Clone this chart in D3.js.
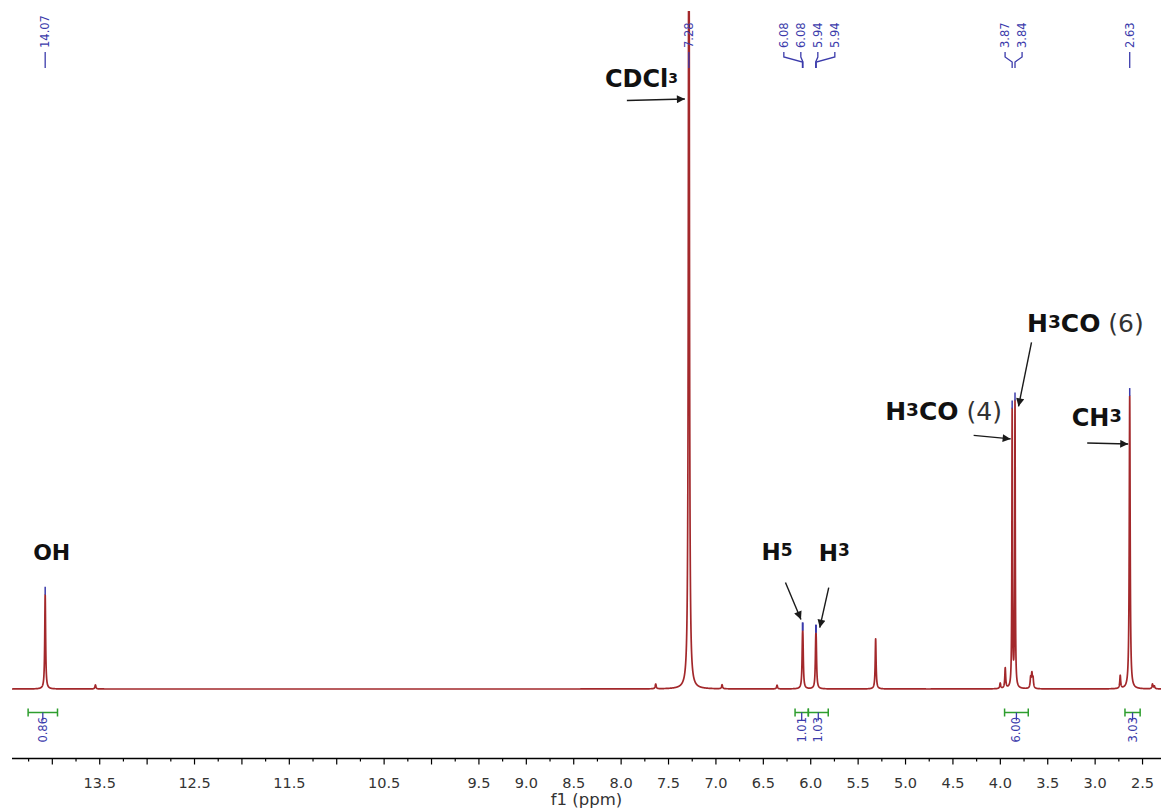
<!DOCTYPE html>
<html>
<head>
<meta charset="utf-8">
<script src="https://cdn.jsdelivr.net/npm/d3@7"></script>
<style>
  html, body { margin: 0; padding: 0; background: #fff; }
  svg { display: block; }
</style>
</head>
<body>
<svg id="chart" width="1161" height="809"></svg>
<script>
// ---- spectrum lines: chemical shift (ppm), height (relative intensity), half-width (ppm)
const linePpm    = [14.07, 13.54, 7.63, 7.28, 6.93, 6.35, 6.082, 6.077, 5.942, 5.937, 5.31,
                    3.996, 3.943, 3.870, 3.840, 3.675, 3.662, 3.650, 2.73, 2.63, 2.39, 2.37];
const lineHeight = [13.9, 0.6, 0.7, 150, 0.6, 0.55, 5.2, 5.2, 5.0, 5.0, 7.4,
                    0.8, 3.0, 40.8, 42.0, 1.5, 2.0, 1.4, 1.9, 43.2, 0.7, 0.4];
const lineWidth  = [0.0055, 0.006, 0.006, 0.0055, 0.006, 0.006, 0.0055, 0.0055, 0.0055, 0.0055, 0.0055,
                    0.006, 0.0055, 0.0035, 0.0035, 0.006, 0.006, 0.006, 0.0055, 0.0055, 0.006, 0.006];

// ---- picked peaks (labelled along the top), in ppm
const pickedPeaks = [14.07, 7.28, 6.082, 6.077, 5.942, 5.937, 3.870, 3.840, 2.63];

// ---- integrals: range start/end (ppm) and value
const integralFrom  = [14.25, 6.16, 6.02, 3.95, 2.68];
const integralTo    = [13.94, 6.02, 5.81, 3.70, 2.52];
const integralValue = [0.86, 1.01, 1.03, 6.00, 3.03];

// ---- axis ticks
const majorTicks = d3.range(0, 24).map(i => +(14.0 - i * 0.5).toFixed(2));
const minorTicks = d3.range(0, 24).map(i => +(14.25 - i * 0.5).toFixed(2));
const tickLabels = [13.5, 12.5, 11.5, 10.5, 9.5, 9.0, 8.5, 8.0, 7.5, 7.0, 6.5, 6.0,
                    5.5, 5.0, 4.5, 4.0, 3.5, 3.0, 2.5];

// ---- assignments written on the spectrum
const assignments = [
  { peak: 14.07, parts: [["OH", "b"]] },
  { peak: 7.28,  parts: [["CDCl", "b"], ["3", "s"]] },
  { peak: 6.082, parts: [["H", "b"], ["5", "s"]] },
  { peak: 5.942, parts: [["H", "b"], ["3", "s"]] },
  { peak: 3.870, parts: [["H", "b"], ["3", "s"], ["CO", "b"], [" (4)", "n"]] },
  { peak: 3.840, parts: [["H", "b"], ["3", "s"], ["CO", "b"], [" (6)", "n"]] },
  { peak: 2.63,  parts: [["CH", "b"], ["3", "s"]] }
];

// placement of each assignment relative to its peak (px): text origin, arrow tail and tip
const assignmentLayout = [
  { size: 22, text: [-12, -35], arrow: null },
  { size: 24, text: [-84, 87, "abs"], arrow: { tail: [-62, 100.5, "abs"], tip: [-4, 99, "abs"] }, supDx: 0, sup: 0.58, supRaise: 4.5 },
  { size: 23, text: [-41, -70], arrow: { tail: [-17, -48], tip: [-1.5, -11] } },
  { size: 23, text: [3, -72], arrow: { tail: [13, -45], tip: [4, -5] } },
  { size: 25, text: [-127, 12], arrow: { tail: [-38.5, 27], tip: [-1.5, 30.5] } },
  { size: 25, text: [12, -68], arrow: { tail: [16.5, -58], tip: [3.5, 6] } },
  { size: 24, text: [-58, 30], arrow: { tail: [-42.5, 47], tip: [-1.5, 48] } }
];

const plot = { left: 12, right: 1161, top: 11, base: 689, axisY: 758.5 };

const svg = d3.select("#chart");
const x = d3.scaleLinear().domain([14.42, 2.30]).range([plot.left, plot.right]);
const y = d3.scaleLinear().domain([0, 100]).range([plot.base, plot.top]);

const blue = "#3b3bab", green = "#2e9e2e", red = "#a3282b";
const font = "DejaVu Sans, Verdana, sans-serif";

// lineshape: sum of Lorentzians
function intensity(ppm) {
  let s = 0;
  for (let i = 0; i < linePpm.length; i++) {
    const d = ppm - linePpm[i], g = lineWidth[i];
    s += lineHeight[i] * g * g / (d * d + g * g);
  }
  return s;
}

const samples = d3.range(14.42, 2.2999, -0.0005).concat(linePpm).sort((a, b) => b - a);
const spectrum = samples.map(p => [p, intensity(p)]);

svg.append("defs").append("clipPath").attr("id", "plotClip")
  .append("rect").attr("x", plot.left).attr("y", plot.top)
  .attr("width", plot.right - plot.left).attr("height", plot.base + 6 - plot.top);

svg.append("path")
  .datum(spectrum)
  .attr("clip-path", "url(#plotClip)")
  .attr("fill", "none")
  .attr("stroke", red)
  .attr("stroke-width", 1.7)
  .attr("stroke-linejoin", "round")
  .attr("d", d3.line().x(d => x(d[0])).y(d => Math.max(plot.top, y(d[1]))));

// ---- peak markers at the peak tops
function topOf(ppm) {
  let best = 0;
  for (let p = ppm - 0.006; p <= ppm + 0.006; p += 0.0002) best = Math.max(best, intensity(p));
  return best;
}
const pickG = svg.append("g");
pickedPeaks.forEach(p => {
  const t = y(topOf(p));
  if (t > plot.top + 10) {
    pickG.append("line").attr("x1", x(p)).attr("x2", x(p))
      .attr("y1", t - 8).attr("y2", t).attr("stroke", blue).attr("stroke-width", 1.5);
  }
});

// ---- peak labels along the top: spread columns around each cluster
const labelGap = 17;
const clusters = [];
pickedPeaks.map(p => ({ ppm: p, px: x(p) })).sort((a, b) => a.px - b.px).forEach(d => {
  const last = clusters[clusters.length - 1];
  if (last && d.px - last[last.length - 1].px < labelGap) last.push(d); else clusters.push([d]);
});
const labelG = svg.append("g");
clusters.forEach(c => {
  const mean = d3.mean(c, d => d.px);
  c.forEach((d, i) => {
    const lx = mean + (i - (c.length - 1) / 2) * labelGap;
    labelG.append("text")
      .attr("transform", `translate(${lx},48) rotate(-90)`)
      .attr("text-anchor", "start")
      .attr("dominant-baseline", "central")
      .attr("font-family", font)
      .attr("font-size", 11.5)
      .attr("fill", blue)
      .text(d.ppm.toFixed(2));
    labelG.append("path")
      .attr("d", `M${lx},52 L${lx},57 L${d.px},62 L${d.px},68`)
      .attr("fill", "none").attr("stroke", blue).attr("stroke-width", 1.3);
  });
});

// ---- integrals
const intG = svg.append("g");
integralValue.forEach((v, i) => {
  const x1 = x(integralFrom[i]), x2 = x(integralTo[i]), xm = (x1 + x2) / 2, yb = 712.5;
  intG.append("line").attr("x1", x1).attr("x2", x2).attr("y1", yb).attr("y2", yb)
    .attr("stroke", green).attr("stroke-width", 1.5);
  [x1, x2].forEach(xx => intG.append("line").attr("x1", xx).attr("x2", xx)
    .attr("y1", yb - 4).attr("y2", yb + 4).attr("stroke", green).attr("stroke-width", 1.5));
  intG.append("line").attr("x1", xm).attr("x2", xm).attr("y1", yb).attr("y2", yb + 8)
    .attr("stroke", blue).attr("stroke-width", 1.3);
  intG.append("text")
    .attr("transform", `translate(${xm},717) rotate(-90)`)
    .attr("text-anchor", "end")
    .attr("dominant-baseline", "central")
    .attr("font-family", font)
    .attr("font-size", 11.5)
    .attr("fill", blue)
    .text(v.toFixed(2));
});

// ---- x axis
const minorAxis = d3.axisBottom(x).tickValues(minorTicks).tickSize(3).tickFormat("");
const majorAxis = d3.axisBottom(x).tickValues(majorTicks).tickSize(6).tickPadding(13)
  .tickFormat(d => tickLabels.some(t => Math.abs(t - d) < 1e-6) ? d.toFixed(1) : "");
const gMinor = svg.append("g").attr("transform", `translate(0,${plot.axisY})`).call(minorAxis);
gMinor.select(".domain").remove();
const gMajor = svg.append("g").attr("transform", `translate(0,${plot.axisY})`).call(majorAxis);
gMajor.select(".domain").attr("d", `M${plot.left},0H${plot.right}`).attr("stroke", "#000").attr("stroke-width", 1.3);
svg.selectAll(".tick line").attr("stroke", "#000").attr("stroke-width", 1.2);
gMajor.selectAll(".tick text").attr("font-family", font).attr("font-size", 14.5).attr("fill", "#333");

svg.append("text")
  .attr("x", (plot.left + plot.right) / 2).attr("y", 805)
  .attr("text-anchor", "middle")
  .attr("font-family", font).attr("font-size", 16.5).attr("fill", "#333")
  .text("f1 (ppm)");

// ---- assignments with arrows
svg.append("defs").append("marker")
  .attr("id", "arrowHead").attr("viewBox", "0 0 10 10")
  .attr("refX", 10).attr("refY", 5)
  .attr("markerWidth", 12).attr("markerHeight", 8)
  .attr("markerUnits", "userSpaceOnUse")
  .attr("orient", "auto")
  .append("path").attr("d", "M0,0L10,5L0,10Z").attr("fill", "#1a1a1a");

const annG = svg.append("g");
function place(pt, px, top) {
  return pt[2] === "abs" ? [px + pt[0], pt[1]] : [px + pt[0], top + pt[1]];
}
assignments.forEach((a, i) => {
  const L = assignmentLayout[i];
  const px = x(a.peak), top = y(topOf(a.peak));
  const [tx, ty] = place(L.text, px, top);
  const supScale = L.sup || 0.74;
  const raise = L.supRaise != null ? L.supRaise : L.size * (0.729 - 0.729 * supScale);
  const t = annG.append("text").attr("x", tx).attr("y", ty)
    .attr("font-family", font)
    .attr("font-size", L.size).attr("fill", "#111");
  let raised = false;
  a.parts.forEach(([s, kind]) => {
    const sp = t.append("tspan").text(s);
    if (kind === "s") {
      sp.attr("font-weight", "bold").attr("font-size", L.size * supScale)
        .attr("dy", -raise).attr("dx", L.supDx || 0);
      raised = true;
      return;
    }
    sp.attr("font-weight", kind === "b" ? "bold" : "normal");
    if (kind === "n") sp.attr("fill", "#333");
    if (raised) { sp.attr("dy", raise); raised = false; }
  });
  if (L.arrow) {
    const [x1, y1] = place(L.arrow.tail, px, top);
    const [x2, y2] = place(L.arrow.tip, px, top);
    annG.append("line").attr("x1", x1).attr("y1", y1).attr("x2", x2).attr("y2", y2)
      .attr("stroke", "#1a1a1a").attr("stroke-width", 1.4)
      .attr("marker-end", "url(#arrowHead)");
  }
});
</script>
</body>
</html>
